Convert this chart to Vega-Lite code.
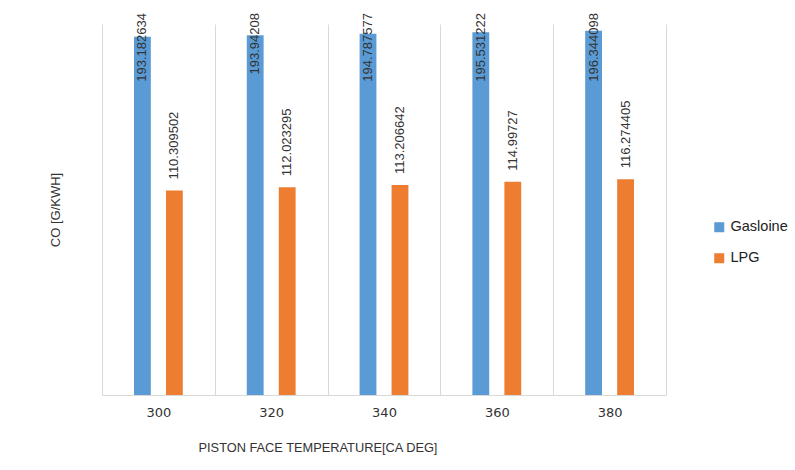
{
  "$schema": "https://vega.github.io/schema/vega-lite/v6.json",
  "autosize": "none",
  "width": 564,
  "height": 371,
  "padding": {"left": 102, "top": 24, "right": 129, "bottom": 75},
  "background": "white",
  "config": {
    "view": {"stroke": null},
    "font": "Liberation Sans",
    "axis": {"labelFont": "DejaVu Sans", "titleFont": "Liberation Sans"}
  },
  "data": {
    "values": [
      {"temp": "300", "fuel": "Gasloine", "co": 193.182634, "label": "193.182634"},
      {"temp": "300", "fuel": "LPG", "co": 110.309502, "label": "110.309502"},
      {"temp": "320", "fuel": "Gasloine", "co": 193.94208, "label": "193.94208"},
      {"temp": "320", "fuel": "LPG", "co": 112.023295, "label": "112.023295"},
      {"temp": "340", "fuel": "Gasloine", "co": 194.787577, "label": "194.787577"},
      {"temp": "340", "fuel": "LPG", "co": 113.206642, "label": "113.206642"},
      {"temp": "360", "fuel": "Gasloine", "co": 195.531222, "label": "195.531222"},
      {"temp": "360", "fuel": "LPG", "co": 114.99727, "label": "114.99727"},
      {"temp": "380", "fuel": "Gasloine", "co": 196.344098, "label": "196.344098"},
      {"temp": "380", "fuel": "LPG", "co": 116.274405, "label": "116.274405"}
    ]
  },
  "encoding": {
    "x": {
      "field": "temp", "type": "nominal",
      "scale": {"paddingInner": 0, "paddingOuter": 0},
      "axis": {
        "labelAngle": 0, "labelFontSize": 13, "labelColor": "#333333", "labelPadding": 11, "labelDx": -3,
        "ticks": false, "tickBand": "extent", "grid": true, "gridColor": "#d9d9d9",
        "domainColor": "#d9d9d9",
        "title": "PISTON FACE TEMPERATURE[CA DEG]", "titleFontSize": 12.8, "titleFontWeight": "normal",
        "titleColor": "#333333", "titleX": 96, "titleY": 52, "titleAlign": "left", "titleBaseline": "middle"
      }
    },
    "xOffset": {"field": "fuel", "type": "nominal", "scale": {"paddingInner": 0.474, "paddingOuter": 1.216}}
  },
  "layer": [
    {
      "mark": {"type": "bar"},
      "encoding": {
        "y": {
          "field": "co", "type": "quantitative", "scale": {"domain": [0, 200]},
          "axis": {
            "labels": false, "ticks": false, "domain": false, "grid": false,
            "title": "CO [G/KWH]", "titleFontSize": 13, "titleFontWeight": "normal", "titleColor": "#333333",
            "titleX": -47, "titleY": 185.5, "titleAngle": 270, "titleAlign": "center", "titleBaseline": "middle"
          }
        },
        "color": {
          "field": "fuel", "type": "nominal",
          "scale": {"domain": ["Gasloine", "LPG"], "range": ["#5b9bd5", "#ed7d31"]},
          "legend": {
            "title": null, "orient": "none", "legendX": 610, "legendY": 196,
            "symbolType": "square", "symbolSize": 100, "symbolStrokeWidth": 0,
            "labelFontSize": 14.5, "labelColor": "#222222", "labelFont": "Liberation Sans",
            "rowPadding": 16, "labelOffset": 4, "padding": 0
          }
        }
      }
    },
    {
      "transform": [{"filter": "datum.fuel === 'LPG'"}],
      "mark": {"type": "text", "angle": 270, "align": "left", "baseline": "middle", "dx": 11, "fontSize": 13, "color": "#333333"},
      "encoding": {
        "y": {"field": "co", "type": "quantitative"},
        "text": {"field": "label", "type": "nominal"}
      }
    },
    {
      "transform": [{"filter": "datum.fuel === 'Gasloine'"}],
      "mark": {"type": "text", "angle": 270, "align": "right", "baseline": "middle", "dx": 11, "fontSize": 13, "color": "#333333"},
      "encoding": {
        "y": {"datum": 200, "type": "quantitative"},
        "text": {"field": "label", "type": "nominal"}
      }
    }
  ]
}
